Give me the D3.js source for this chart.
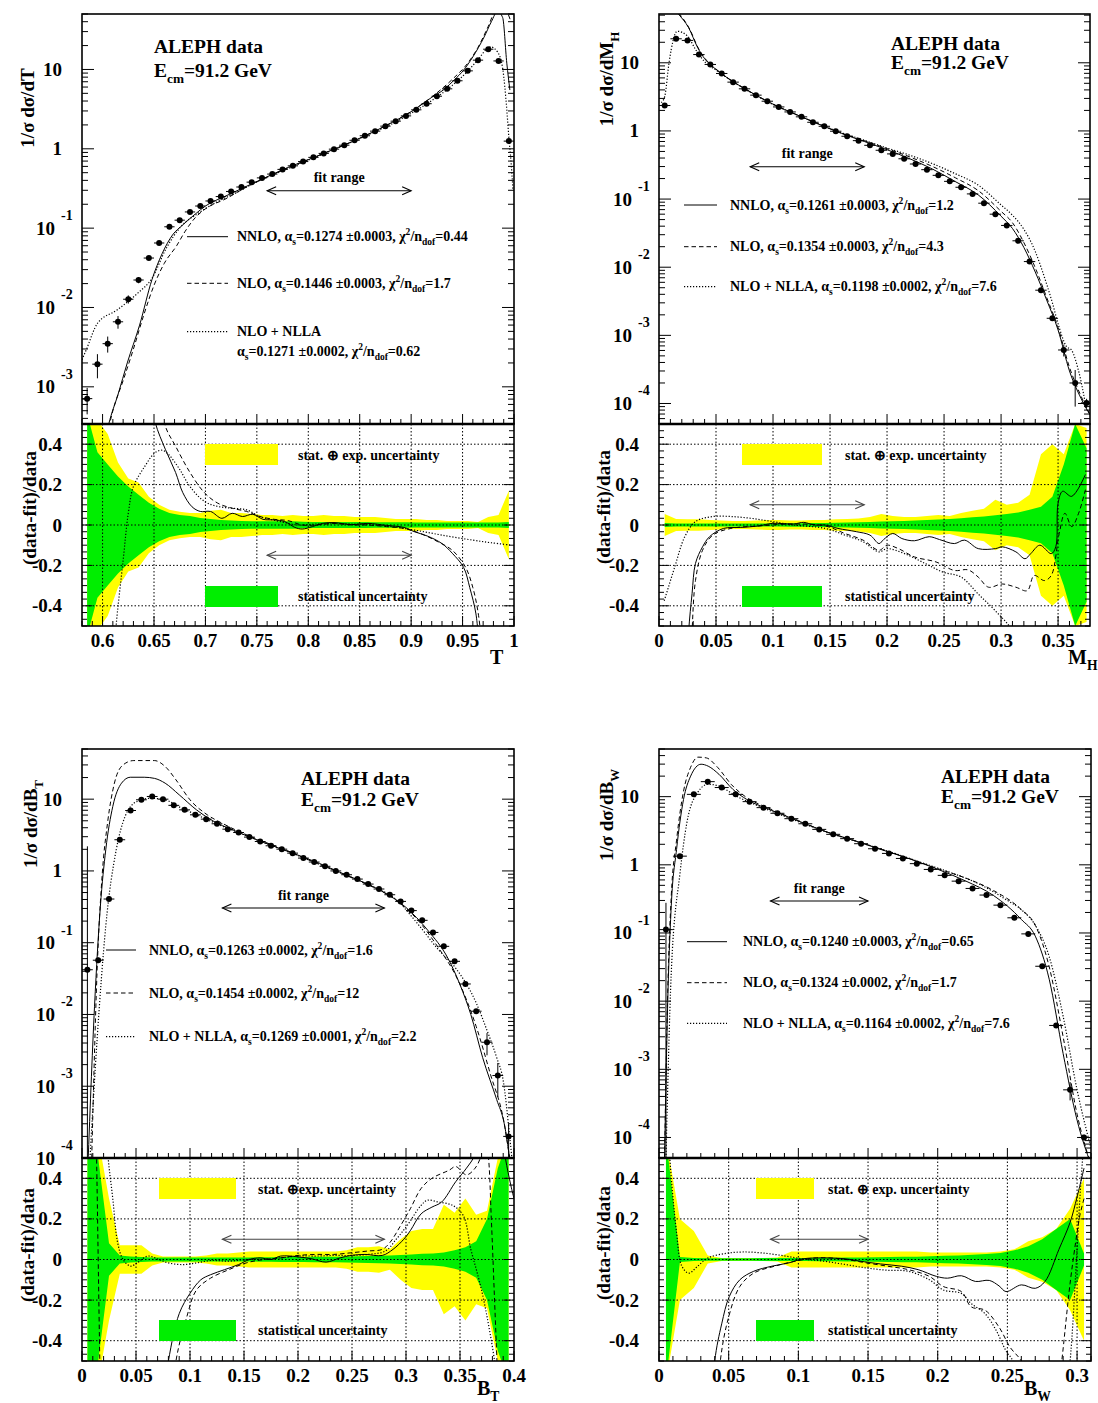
<!DOCTYPE html>
<html><head><meta charset="utf-8"><title>ALEPH event shapes</title>
<script src="https://cdn.jsdelivr.net/npm/d3@7/dist/d3.min.js"></script>
<style>
html,body{margin:0;padding:0;background:#fff;}
svg{display:block;}
text{font-family:"Liberation Serif","Times New Roman",Times,serif;font-weight:bold;fill:#000;}
</style></head><body>
<svg id="chart" width="1098" height="1403" xmlns="http://www.w3.org/2000/svg"></svg>
<script>
// ======================= DATA =======================
const modelNames = ["NNLO", "NLO", "NLO + NLLA"];
const ratioTickValues = [-0.4, -0.2, 0, 0.2, 0.4];
const ratioTickLabels = ["-0.4", "-0.2", "0", "0.2", "0.4"];
const boxLabels = ["stat. \u2295 exp. uncertainty", "statistical uncertainty"];

// ---------- Panel 1 : Thrust T ----------
const T_bins = [0.585,0.595,0.605,0.615,0.625,0.635,0.645,0.655,0.665,0.675,0.685,0.695,0.705,0.715,0.725,0.735,0.745,0.755,0.765,0.775,0.785,0.795,0.805,0.815,0.825,0.835,0.845,0.855,0.865,0.875,0.885,0.895,0.905,0.915,0.925,0.935,0.945,0.955,0.965,0.975,0.985,0.995];
const T_data = [7.1e-4,1.93e-3,3.5e-3,6.6e-3,0.0127,0.0222,0.042,0.065,0.104,0.126,0.16,0.19,0.22,0.25,0.29,0.33,0.38,0.43,0.48,0.55,0.61,0.69,0.78,0.875,0.99,1.11,1.28,1.46,1.67,1.93,2.23,2.6,3.1,3.7,4.6,5.7,7.2,9.6,13.1,18,12.8,1.25];
const T_err = [2.6e-4,6.5e-4,8e-4,1.2e-3,1.5e-3,2e-3,2.5e-3,3e-3,0.004,0.004,0.004,0.004,0.004,0.004,0.005,0.005,0.005,0.006,0.006,0.007,0.007,0.008,0.009,0.01,0.01,0.012,0.013,0.015,0.017,0.02,0.022,0.026,0.03,0.037,0.046,0.057,0.07,0.1,0.13,0.18,0.13,0.03];
const T_nnlo = [[0.6,1.5e-4],[0.606,3.4e-4],[0.615,8e-4],[0.624,2.0e-3],[0.636,6.0e-3],[0.648,0.0224],[0.658,0.048],[0.668,0.082],[0.678,0.11],[0.69,0.15],[0.70,0.19],[0.72,0.255],[0.74,0.337],[0.76,0.444],[0.78,0.58],[0.80,0.73],[0.82,0.93],[0.84,1.19],[0.86,1.56],[0.88,2.1],[0.90,2.93],[0.92,4.45],[0.932,5.6],[0.942,7.4],[0.951,9.8],[0.96,14.4],[0.971,25.7],[0.978,40],[0.984,54],[0.989,45],[0.993,12],[0.996,5.5]];
const T_nlo = [[0.6,1.3e-4],[0.61,5e-4],[0.62,1.2e-3],[0.63,3.0e-3],[0.64,8e-3],[0.65,0.019],[0.66,0.036],[0.672,0.06],[0.68,0.09],[0.69,0.135],[0.70,0.175],[0.72,0.235],[0.74,0.33],[0.76,0.44],[0.78,0.575],[0.80,0.73],[0.82,0.93],[0.84,1.19],[0.86,1.56],[0.88,2.1],[0.90,2.95],[0.92,4.5],[0.94,7.5],[0.955,12],[0.965,19],[0.975,35],[0.982,55],[0.99,60],[0.997,40]];
const T_nlla = [[0.58,2.2e-3],[0.584,2.9e-3],[0.595,6.3e-3],[0.614,9.3e-3],[0.634,0.0151],[0.648,0.0233],[0.662,0.056],[0.676,0.104],[0.693,0.154],[0.71,0.21],[0.73,0.28],[0.75,0.385],[0.78,0.56],[0.80,0.72],[0.82,0.92],[0.84,1.18],[0.86,1.54],[0.88,2.02],[0.90,2.8],[0.92,4.05],[0.94,6.3],[0.955,9.5],[0.965,13.3],[0.977,19.3],[0.984,16.6],[0.989,10.3],[0.993,3.1],[0.995,1.4],[0.997,0.72],[0.999,0.3]];
const T_yellow = [0.6,0.52,0.45,0.31,0.23,0.21,0.14,0.1,0.075,0.065,0.06,0.06,0.07,0.075,0.06,0.06,0.055,0.05,0.05,0.045,0.05,0.045,0.045,0.05,0.045,0.045,0.04,0.04,0.04,0.035,0.03,0.03,0.03,0.025,0.025,0.02,0.02,0.02,0.015,0.04,0.05,0.17];
const T_green = [0.55,0.36,0.3,0.24,0.19,0.15,0.11,0.08,0.06,0.05,0.045,0.035,0.03,0.025,0.022,0.02,0.018,0.018,0.018,0.018,0.018,0.016,0.015,0.015,0.015,0.015,0.015,0.015,0.014,0.014,0.013,0.013,0.012,0.012,0.012,0.012,0.012,0.012,0.012,0.012,0.012,0.015];
const T_rNnlo = [[0.64,0.8],[0.651,0.51],[0.661,0.375],[0.671,0.26],[0.678,0.16],[0.687,0.09],[0.695,0.067],[0.705,0.067],[0.716,0.033],[0.726,0.058],[0.736,0.042],[0.746,0.053],[0.756,0.028],[0.767,0.025],[0.777,0.017],[0.787,-0.012],[0.794,-0.02],[0.804,-0.008],[0.814,0.008],[0.825,0.012],[0.842,0.002],[0.858,0.008],[0.876,-0.002],[0.893,-0.012],[0.903,-0.033],[0.916,-0.055],[0.93,-0.092],[0.94,-0.14],[0.951,-0.21],[0.957,-0.31],[0.963,-0.44],[0.966,-0.6]];
const T_rNlo = [[0.655,0.7],[0.661,0.49],[0.671,0.39],[0.685,0.26],[0.699,0.16],[0.712,0.108],[0.726,0.083],[0.74,0.067],[0.753,0.042],[0.767,0.028],[0.78,0.022],[0.794,0],[0.808,0],[0.825,0.008],[0.842,0],[0.858,0],[0.876,-0.008],[0.893,-0.017],[0.909,-0.042],[0.926,-0.083],[0.94,-0.125],[0.953,-0.21],[0.96,-0.31],[0.965,-0.43],[0.969,-0.6]];
const T_rNlla = [[0.611,-0.7],[0.613,-0.51],[0.62,-0.175],[0.625,0.058],[0.63,0.19],[0.641,0.29],[0.651,0.358],[0.658,0.37],[0.664,0.35],[0.675,0.275],[0.685,0.19],[0.699,0.117],[0.712,0.092],[0.726,0.083],[0.74,0.075],[0.753,0.042],[0.773,0.017],[0.79,0],[0.808,0.005],[0.842,0.005],[0.876,-0.005],[0.903,-0.025],[0.93,-0.05],[0.96,-0.075],[0.978,-0.088],[0.998,-0.1]];
const T_fit = [0.76, 0.90];
const T_xTicks = [0.6,0.65,0.7,0.75,0.8,0.85,0.9,0.95,1.0];
const T_xTickLabels = ["0.6","0.65","0.7","0.75","0.8","0.85","0.9","0.95","1"];
const T_alphas = ["0.1274 \u00b10.0003","0.1446 \u00b10.0003","0.1271 \u00b10.0002"];
const T_chi2 = ["0.44","1.7","0.62"];

// ---------- Panel 2 : Heavy jet mass M_H ----------
const M_bins = [0.005,0.015,0.025,0.035,0.045,0.055,0.065,0.075,0.085,0.095,0.105,0.115,0.125,0.135,0.145,0.155,0.165,0.175,0.185,0.195,0.205,0.215,0.225,0.235,0.245,0.255,0.265,0.275,0.285,0.295,0.305,0.315,0.325,0.335,0.345,0.355,0.365,0.375];
const M_data = [2.36,22.5,21.3,13.2,9.45,6.97,5.2,4.15,3.35,2.73,2.25,1.9,1.61,1.34,1.17,0.99,0.835,0.72,0.615,0.52,0.46,0.39,0.327,0.27,0.223,0.182,0.149,0.119,0.087,0.06,0.041,0.0244,0.0121,4.6e-3,1.78e-3,6.1e-4,2.0e-4,1.02e-4];
const M_err = [0.05,0.3,0.3,0.15,0.1,0.07,0.05,0.04,0.03,0.03,0.02,0.02,0.015,0.013,0.012,0.01,0.008,0.007,0.006,0.005,0.005,0.004,0.004,0.003,0.003,0.003,0.002,0.002,0.002,0.0015,0.001,6e-4,4e-4,2e-4,1e-4,1.2e-4,1.1e-4,1.5e-5];
const M_nnlo = [[0.012,65],[0.017,52],[0.026,32.7],[0.034,16.6],[0.04,11.5],[0.05,8.0],[0.06,6.0],[0.08,3.75],[0.10,2.47],[0.12,1.75],[0.14,1.26],[0.16,0.92],[0.18,0.7],[0.2,0.53],[0.22,0.39],[0.24,0.275],[0.26,0.18],[0.28,0.115],[0.30,0.056],[0.31,0.037],[0.32,0.0195],[0.33,8.5e-3],[0.34,3.3e-3],[0.35,1.2e-3],[0.36,3.0e-4],[0.37,1.2e-4],[0.38,6e-5]];
const M_nlo = [[0.013,65],[0.018,52],[0.027,31],[0.034,17],[0.04,11.8],[0.05,8.1],[0.06,6.0],[0.08,3.75],[0.10,2.47],[0.12,1.75],[0.14,1.26],[0.16,0.93],[0.18,0.72],[0.2,0.55],[0.22,0.415],[0.24,0.3],[0.26,0.205],[0.28,0.133],[0.30,0.066],[0.31,0.045],[0.32,0.023],[0.33,9.8e-3],[0.34,3.6e-3],[0.35,1.3e-3],[0.36,3.4e-4],[0.37,1.3e-4],[0.38,6e-5]];
const M_nlla = [[0.002,2.6],[0.005,3.2],[0.009,10.6],[0.016,29],[0.025,24.7],[0.032,15.7],[0.041,10],[0.05,7.8],[0.06,6.0],[0.08,3.7],[0.10,2.45],[0.12,1.74],[0.14,1.27],[0.16,0.94],[0.18,0.73],[0.2,0.56],[0.22,0.44],[0.24,0.33],[0.26,0.235],[0.28,0.16],[0.30,0.082],[0.31,0.058],[0.32,0.036],[0.33,0.017],[0.336,9e-3],[0.345,3e-3],[0.351,1.3e-3],[0.357,7e-4],[0.362,6e-4],[0.368,3e-4],[0.375,8e-5]];
const M_yellow = [0.055,0.03,0.028,0.028,0.025,0.022,0.02,0.02,0.022,0.025,0.025,0.022,0.022,0.025,0.025,0.028,0.03,0.032,0.04,0.055,0.045,0.04,0.04,0.045,0.05,0.045,0.06,0.07,0.08,0.125,0.1,0.11,0.15,0.35,0.4,0.35,0.5,0.48];
const M_green = [0.01,0.008,0.008,0.008,0.008,0.008,0.008,0.008,0.008,0.008,0.008,0.009,0.009,0.01,0.01,0.011,0.012,0.013,0.015,0.017,0.018,0.02,0.022,0.025,0.027,0.03,0.033,0.038,0.042,0.048,0.055,0.062,0.075,0.09,0.14,0.3,0.5,0.38];
const M_rNnlo = [[0.0236,-0.8],[0.026,-0.525],[0.029,-0.34],[0.032,-0.19],[0.0382,-0.108],[0.0443,-0.058],[0.0566,-0.017],[0.0718,-0.012],[0.0871,-0.005],[0.0994,0.008],[0.118,0.005],[0.127,0.013],[0.136,0],[0.146,0],[0.157,-0.017],[0.173,-0.033],[0.185,-0.05],[0.193,-0.092],[0.197,-0.072],[0.205,-0.042],[0.213,-0.067],[0.224,-0.078],[0.237,-0.058],[0.246,-0.072],[0.259,-0.092],[0.268,-0.075],[0.28,-0.117],[0.295,-0.117],[0.301,-0.108],[0.313,-0.133],[0.321,-0.167],[0.326,-0.142],[0.334,-0.1],[0.344,-0.142],[0.348,-0.108],[0.35,0.108],[0.354,0.167],[0.362,0.142],[0.374,0.25]];
const M_rNlo = [[0.027,-0.8],[0.029,-0.525],[0.032,-0.275],[0.0382,-0.125],[0.0472,-0.05],[0.063,-0.017],[0.0871,-0.005],[0.118,0.005],[0.146,-0.005],[0.163,-0.042],[0.179,-0.075],[0.193,-0.125],[0.2,-0.1],[0.21,-0.117],[0.224,-0.158],[0.243,-0.183],[0.259,-0.225],[0.271,-0.222],[0.28,-0.258],[0.289,-0.308],[0.301,-0.292],[0.313,-0.308],[0.323,-0.325],[0.329,-0.25],[0.338,-0.275],[0.344,-0.25],[0.351,-0.042],[0.356,0.058],[0.362,-0.008],[0.368,0.058],[0.374,0.175]];
const M_rNlla = [[0.0046,-0.375],[0.0138,-0.208],[0.0226,-0.058],[0.032,0.017],[0.0472,0.042],[0.063,0.042],[0.0807,0.033],[0.0994,0.017],[0.118,0],[0.146,-0.017],[0.163,-0.05],[0.179,-0.083],[0.193,-0.133],[0.2,-0.117],[0.2155,-0.142],[0.234,-0.192],[0.249,-0.233],[0.265,-0.258],[0.28,-0.342],[0.295,-0.425],[0.31,-0.525],[0.32,-0.7]];
const M_fit = [0.08, 0.18];
const M_xTicks = [0,0.05,0.1,0.15,0.2,0.25,0.3,0.35];
const M_xTickLabels = ["0","0.05","0.1","0.15","0.2","0.25","0.3","0.35"];
const M_alphas = ["0.1261 \u00b10.0003","0.1354 \u00b10.0003","0.1198 \u00b10.0002"];
const M_chi2 = ["1.2","4.3","7.6"];

// ---------- Panel 3 : Total jet broadening B_T ----------
const BT_bins = [0.005,0.015,0.025,0.035,0.045,0.055,0.065,0.075,0.085,0.095,0.105,0.115,0.125,0.135,0.145,0.155,0.165,0.175,0.185,0.195,0.205,0.215,0.225,0.235,0.245,0.255,0.265,0.275,0.285,0.295,0.305,0.315,0.325,0.335,0.345,0.355,0.365,0.375,0.385,0.395];
const BT_data = [0.042,0.057,0.406,2.72,6.95,9.8,10.9,10.0,8.2,7.1,6.05,5.27,4.54,3.82,3.43,2.96,2.57,2.24,2.01,1.77,1.51,1.33,1.16,1.0,0.885,0.77,0.656,0.56,0.466,0.376,0.28,0.205,0.139,0.089,0.055,0.0266,0.0111,4.1e-3,1.41e-3,2.0e-4];
const BT_err = [2.16,0.005,0.02,0.1,0.2,0.25,0.25,0.2,0.15,0.12,0.1,0.08,0.07,0.05,0.05,0.04,0.03,0.03,0.02,0.02,0.02,0.015,0.015,0.012,0.01,0.01,0.008,0.007,0.006,0.005,0.004,0.003,0.003,0.002,0.0015,8e-4,6e-4,1.4e-3,7e-4,1e-4];
const BT_nnlo = [[0.005,5e-5],[0.0116,0.013],[0.017,0.32],[0.022,1.97],[0.0285,7.9],[0.0366,16.7],[0.0447,20.2],[0.0576,20.2],[0.067,19.5],[0.077,16.7],[0.09,11.5],[0.106,7.1],[0.12,5.1],[0.14,3.7],[0.16,2.78],[0.18,2.14],[0.2,1.66],[0.22,1.27],[0.24,0.94],[0.26,0.7],[0.28,0.5],[0.30,0.31],[0.32,0.15],[0.339,0.06],[0.35,0.026],[0.36,0.01],[0.371,2.5e-3],[0.384,6.5e-4],[0.391,3e-4],[0.396,1e-4],[0.4,4e-5]];
const BT_nlo = [[0.009,1e-4],[0.0139,0.038],[0.0188,0.93],[0.0236,4.6],[0.03,16.7],[0.038,30],[0.048,34.5],[0.067,34.5],[0.077,28.5],[0.087,18.6],[0.1,9.8],[0.116,6.05],[0.13,4.6],[0.15,3.3],[0.17,2.5],[0.19,1.92],[0.21,1.42],[0.23,1.07],[0.25,0.8],[0.27,0.59],[0.29,0.4],[0.313,0.19],[0.33,0.085],[0.346,0.035],[0.365,6.8e-3],[0.378,1.5e-3],[0.391,3e-4],[0.396,1e-4],[0.4,4e-5]];
const BT_nlla = [[0.0074,1e-4],[0.014,4.5e-3],[0.022,0.17],[0.0317,1.97],[0.0398,5.7],[0.051,9.3],[0.064,10.3],[0.077,9.8],[0.09,7.8],[0.11,5.7],[0.13,4.2],[0.15,3.2],[0.17,2.42],[0.19,1.88],[0.21,1.42],[0.23,1.07],[0.25,0.81],[0.27,0.6],[0.29,0.41],[0.31,0.19],[0.33,0.08],[0.3456,0.045],[0.365,0.0145],[0.375,6e-3],[0.384,2.5e-3],[0.39,1.2e-3],[0.396,2e-4],[0.4,5e-5]];
const BT_yellow = [0.6,0.6,0.3,0.07,0.07,0.07,0.03,0.015,0.015,0.015,0.015,0.02,0.03,0.03,0.035,0.04,0.04,0.04,0.04,0.04,0.04,0.04,0.04,0.04,0.045,0.06,0.06,0.065,0.05,0.1,0.14,0.15,0.15,0.27,0.23,0.3,0.22,0.24,0.5,0.6];
const BT_green = [0.6,0.5,0.08,0.02,0.015,0.012,0.01,0.01,0.01,0.01,0.01,0.01,0.01,0.01,0.01,0.01,0.011,0.011,0.012,0.012,0.012,0.013,0.013,0.014,0.015,0.016,0.017,0.018,0.02,0.022,0.025,0.028,0.03,0.035,0.045,0.06,0.09,0.2,0.45,0.6];
const BT_rNnlo = [[0.07,-0.9],[0.08,-0.5],[0.09,-0.267],[0.1,-0.167],[0.11,-0.1],[0.119,-0.075],[0.132,-0.05],[0.145,-0.025],[0.155,0],[0.165,0.008],[0.175,0],[0.184,0.017],[0.2,0.013],[0.213,0.003],[0.226,-0.013],[0.239,0.008],[0.249,0.02],[0.262,0.025],[0.278,0.02],[0.288,0.05],[0.298,0.1],[0.304,0.142],[0.314,0.225],[0.324,0.258],[0.333,0.283],[0.346,0.383],[0.356,0.45],[0.364,0.517],[0.375,0.75],[0.385,0.75],[0.392,0.5],[0.397,0.367],[0.4,0.3]];
const BT_rNlo = [[0.012,0.9],[0.0135,0.5],[0.0165,-0.5],[0.018,-0.9],null,[0.08,-0.9],[0.087,-0.5],[0.097,-0.283],[0.106,-0.15],[0.119,-0.092],[0.136,-0.05],[0.152,-0.017],[0.168,0],[0.184,0.008],[0.2,0.02],[0.217,0.025],[0.233,0.025],[0.249,0.033],[0.265,0.042],[0.278,0.05],[0.285,0.083],[0.295,0.167],[0.304,0.25],[0.314,0.35],[0.324,0.4],[0.34,0.44],[0.346,0.458],[0.356,0.417],[0.364,0.45],[0.37,0.517],[0.373,0.6],[0.376,0.52],[0.379,0.2],[0.382,-0.2],[0.385,-0.6]];
const BT_rNlla = [[0.022,0.8],[0.024,0.517],[0.0285,0.3],[0.033,0.083],[0.038,0],[0.045,-0.033],[0.051,-0.017],[0.061,0.017],[0.071,0],[0.08,-0.017],[0.093,-0.025],[0.106,-0.017],[0.119,-0.005],[0.136,-0.008],[0.152,0],[0.168,0],[0.184,0.008],[0.2,0.017],[0.217,0.017],[0.233,0.02],[0.249,0.02],[0.265,0.025],[0.281,0.042],[0.291,0.1],[0.301,0.167],[0.314,0.267],[0.32,0.292],[0.33,0.283],[0.343,0.267],[0.353,0.217],[0.36,0.05],[0.366,-0.067],[0.372,-0.2],[0.382,-0.5],[0.386,-0.7]];
const BT_fit = [0.13, 0.28];
const BT_xTicks = [0,0.05,0.1,0.15,0.2,0.25,0.3,0.35,0.4];
const BT_xTickLabels = ["0","0.05","0.1","0.15","0.2","0.25","0.3","0.35","0.4"];
const BT_alphas = ["0.1263 \u00b10.0002","0.1454 \u00b10.0002","0.1269 \u00b10.0001"];
const BT_chi2 = ["1.6","12","2.2"];

// ---------- Panel 4 : Wide jet broadening B_W ----------
const BW_bins = [0.005,0.015,0.025,0.035,0.045,0.055,0.065,0.075,0.085,0.095,0.105,0.115,0.125,0.135,0.145,0.155,0.165,0.175,0.185,0.195,0.205,0.215,0.225,0.235,0.245,0.255,0.265,0.275,0.285,0.295,0.305];
const BW_data = [0.112,1.34,10.8,16.6,13.6,10.8,8.45,6.9,5.7,4.75,4.0,3.31,2.8,2.42,2.04,1.72,1.47,1.24,1.04,0.855,0.70,0.576,0.45,0.36,0.256,0.167,0.097,0.0325,4.4e-3,5.0e-4,1.0e-4];
const BW_err = [0.165,0.03,0.2,0.3,0.25,0.2,0.15,0.1,0.08,0.06,0.05,0.04,0.03,0.03,0.02,0.02,0.015,0.012,0.01,0.01,0.008,0.007,0.006,0.005,0.004,0.003,0.002,8e-4,2e-4,1.5e-4,1e-5];
const BW_nnlo = [[0.004,5e-5],[0.0063,0.0105],[0.0088,0.25],[0.0126,1.68],[0.0176,9.1],[0.0227,20],[0.0302,29.9],[0.0353,28],[0.043,21.3],[0.053,12.8],[0.063,9.1],[0.08,6.4],[0.10,4.4],[0.12,3.05],[0.14,2.27],[0.16,1.66],[0.18,1.22],[0.2,0.86],[0.22,0.58],[0.24,0.355],[0.26,0.158],[0.27,0.09],[0.28,0.021],[0.29,1.7e-3],[0.30,1.8e-4],[0.31,4e-5]];
const BW_nlo = [[0.004,5e-5],[0.0063,0.015],[0.0088,0.35],[0.0126,2.3],[0.0176,12],[0.0227,27],[0.028,38],[0.034,37],[0.042,27],[0.052,15],[0.062,10],[0.08,6.6],[0.10,4.45],[0.12,3.05],[0.14,2.28],[0.16,1.68],[0.18,1.23],[0.2,0.88],[0.22,0.64],[0.24,0.42],[0.26,0.22],[0.27,0.13],[0.28,0.032],[0.29,3e-3],[0.30,2.2e-4],[0.31,4e-5]];
const BW_nlla = [[0.005,5e-5],[0.0088,0.026],[0.0151,0.76],[0.02,4.15],[0.0277,11.5],[0.0353,15.2],[0.043,14.3],[0.0554,10.2],[0.07,7.5],[0.09,5.15],[0.11,3.6],[0.13,2.6],[0.15,1.95],[0.17,1.45],[0.19,1.05],[0.21,0.76],[0.23,0.52],[0.25,0.3],[0.26,0.22],[0.27,0.13],[0.28,0.045],[0.29,6e-3],[0.30,5e-4],[0.31,7e-5]];
const BW_yellow = [0.6,0.2,0.14,0.02,0.008,0.008,0.008,0.008,0.01,0.04,0.04,0.04,0.04,0.04,0.04,0.04,0.04,0.04,0.04,0.035,0.035,0.035,0.035,0.035,0.04,0.05,0.09,0.11,0.15,0.25,0.4];
const BW_green = [0.6,0.012,0.008,0.006,0.006,0.006,0.006,0.007,0.007,0.008,0.008,0.009,0.009,0.01,0.01,0.011,0.012,0.013,0.014,0.016,0.018,0.02,0.023,0.027,0.032,0.045,0.065,0.1,0.15,0.2,0.03];
const BW_rNnlo = [[0.037,-0.9],[0.04,-0.5],[0.045,-0.317],[0.0504,-0.183],[0.058,-0.1],[0.068,-0.058],[0.081,-0.033],[0.093,-0.017],[0.103,0.003],[0.118,0.008],[0.134,0.003],[0.144,-0.008],[0.159,-0.022],[0.174,-0.033],[0.186,-0.05],[0.199,-0.083],[0.207,-0.092],[0.217,-0.08],[0.227,-0.108],[0.237,-0.103],[0.244,-0.13],[0.249,-0.158],[0.26,-0.125],[0.27,-0.142],[0.277,-0.108],[0.287,0.05],[0.295,0.183],[0.3,0.308],[0.305,0.45]];
const BW_rNlo = [[0.041,-0.9],[0.044,-0.5],[0.05,-0.283],[0.058,-0.133],[0.068,-0.067],[0.083,-0.033],[0.098,-0.008],[0.113,0.008],[0.131,0.003],[0.149,-0.017],[0.164,-0.033],[0.179,-0.05],[0.194,-0.083],[0.204,-0.133],[0.217,-0.158],[0.224,-0.233],[0.234,-0.25],[0.244,-0.333],[0.252,-0.433],[0.26,-0.5],[0.265,-0.6],null,[0.287,-0.6],[0.289,-0.5],[0.295,-0.117],[0.3,0.133],[0.302,0.217],[0.305,0.3]];
const BW_rNlla = [[0.006,0.8],[0.0076,0.517],[0.0126,0.133],[0.0164,-0.033],[0.0214,-0.067],[0.0277,-0.033],[0.0353,0.008],[0.048,0.03],[0.06,0.037],[0.073,0.033],[0.088,0.02],[0.103,0.003],[0.118,-0.008],[0.134,-0.025],[0.149,-0.042],[0.164,-0.053],[0.179,-0.058],[0.194,-0.1],[0.204,-0.15],[0.217,-0.167],[0.224,-0.217],[0.234,-0.267],[0.242,-0.35],[0.249,-0.45],[0.254,-0.5],[0.258,-0.6],null,[0.293,-0.6],[0.295,-0.5],[0.3,0.05],[0.302,0.3],[0.304,0.5]];
const BW_fit = [0.08, 0.15];
const BW_xTicks = [0,0.05,0.1,0.15,0.2,0.25,0.3];
const BW_xTickLabels = ["0","0.05","0.1","0.15","0.2","0.25","0.3"];
const BW_alphas = ["0.1240 \u00b10.0003","0.1324 \u00b10.0002","0.1164 \u00b10.0002"];
const BW_chi2 = ["0.65","1.7","7.6"];

// ======================= LAYOUT =======================
const panels = [
 {x0:82, x1:514, yT:14, yS:424, yB:626, xDom:[0.58,1.0], yDom:[3.4e-4,50],
  bins:T_bins, data:T_data, err:T_err, curves:[T_nnlo,T_nlo,T_nlla],
  yellow:T_yellow, green:T_green, ratios:[T_rNnlo,T_rNlo,T_rNlla],
  fit:T_fit, fitY:190.7, rFit:-0.15, xTicks:T_xTicks, xTickLabels:T_xTickLabels,
  alphas:T_alphas, chi2:T_chi2,
  aleph:{x:154, y1:53, y2:77},
  leg:{lx0:187, lx1:228, tx:237, rows:[236.7,283.3,331.7], twoLine:true, row2:351},
  yTitle:{x:34, y:108, parts:[["1/\u03c3 d\u03c3/dT",0]]},
  rTitle:{x:36, y:508},
  xTitle:{x:490, y:664, parts:[["T",0]]},
  box:{x0:205, x1:278, tx:298, l1:"stat. \u2295 exp. uncertainty"}},
 {x0:659, x1:1090, yT:14, yS:424, yB:626, xDom:[0,0.378], yDom:[5e-5,52],
  bins:M_bins, data:M_data, err:M_err, curves:[M_nnlo,M_nlo,M_nlla],
  yellow:M_yellow, green:M_green, ratios:[M_rNnlo,M_rNlo,M_rNlla],
  fit:M_fit, fitY:166.7, rFit:0.1, xTicks:M_xTicks, xTickLabels:M_xTickLabels,
  alphas:M_alphas, chi2:M_chi2,
  aleph:{x:891, y1:50, y2:69},
  leg:{lx0:684, lx1:717, tx:730, rows:[205,246.7,286.7], twoLine:false},
  yTitle:{x:613, y:79, parts:[["1/\u03c3 d\u03c3/dM",0],["H",1]]},
  rTitle:{x:610, y:507},
  xTitle:{x:1068, y:664, parts:[["M",0],["H",1]]},
  box:{x0:742, x1:822, tx:845, l1:"stat. \u2295 exp. uncertainty"}},
 {x0:82, x1:514, yT:749, yS:1158, yB:1361, xDom:[0,0.4], yDom:[1e-4,50],
  bins:BT_bins, data:BT_data, err:BT_err, curves:[BT_nnlo,BT_nlo,BT_nlla],
  yellow:BT_yellow, green:BT_green, ratios:[BT_rNnlo,BT_rNlo,BT_rNlla],
  fit:BT_fit, fitY:908, rFit:0.1, xTicks:BT_xTicks, xTickLabels:BT_xTickLabels,
  alphas:BT_alphas, chi2:BT_chi2,
  aleph:{x:301, y1:785, y2:806},
  leg:{lx0:106, lx1:136, tx:149, rows:[950,993,1036.7], twoLine:false},
  yTitle:{x:37, y:824, parts:[["1/\u03c3 d\u03c3/dB",0],["T",1]]},
  rTitle:{x:34, y:1245},
  xTitle:{x:477, y:1395, parts:[["B",0],["T",1]]},
  box:{x0:159, x1:236, tx:258, l1:"stat. \u2295exp. uncertainty"}},
 {x0:659, x1:1091, yT:749, yS:1158, yB:1361, xDom:[0,0.31], yDom:[5e-5,50],
  bins:BW_bins, data:BW_data, err:BW_err, curves:[BW_nnlo,BW_nlo,BW_nlla],
  yellow:BW_yellow, green:BW_green, ratios:[BW_rNnlo,BW_rNlo,BW_rNlla],
  fit:BW_fit, fitY:901, rFit:0.1, xTicks:BW_xTicks, xTickLabels:BW_xTickLabels,
  alphas:BW_alphas, chi2:BW_chi2,
  aleph:{x:941, y1:783, y2:803},
  leg:{lx0:687, lx1:727, tx:743, rows:[941.7,982.7,1023.3], twoLine:false},
  yTitle:{x:613, y:815, parts:[["1/\u03c3 d\u03c3/dB",0],["W",1]]},
  rTitle:{x:610, y:1243},
  xTitle:{x:1024, y:1395, parts:[["B",0],["W",1]]},
  box:{x0:756, x1:814, tx:828, l1:"stat. \u2295 exp. uncertainty"}}
];

// ======================= DRAWING =======================
const svg = d3.select('#chart');
const defs = svg.append('defs');
const YEL = '#ffff00', GRN = '#00ee00';
const DASH = [null, '4.5,3', '1.2,1.8'];

function rich(g, parts, size, attrs) {
  const t = g.append('text').attr('font-size', size);
  Object.keys(attrs).forEach(k => t.attr(k, attrs[k]));
  let shift = 0;
  parts.forEach(([s, m]) => {
    const target = m === 1 ? 0.3 * size : (m === 2 ? -0.42 * size : 0);
    const ts = t.append('tspan').text(s).attr('dy', target - shift);
    if (m) ts.attr('font-size', size * 0.68);
    shift = target;
  });
  return t;
}
function seg(g, x1, y1, x2, y2, w, col) {
  return g.append('line').attr('x1', x1).attr('y1', y1).attr('x2', x2).attr('y2', y2)
    .attr('stroke', col || '#000').attr('stroke-width', w || 1);
}
function arrow(g, xa, xb, yy, col) {
  seg(g, xa, yy, xb, yy, 1.1, col);
  g.append('path').attr('d', `M${xa+9},${yy-4}L${xa},${yy}L${xa+9},${yy+4}`).attr('fill','none').attr('stroke',col).attr('stroke-width',1.1);
  g.append('path').attr('d', `M${xb-9},${yy-4}L${xb},${yy}L${xb-9},${yy+4}`).attr('fill','none').attr('stroke',col).attr('stroke-width',1.1);
}

panels.forEach((P, idx) => {
  const g = svg.append('g');
  const x = d3.scaleLinear().domain(P.xDom).range([P.x0, P.x1]);
  const y = d3.scaleLog().domain(P.yDom).range([P.yS, P.yT]);
  const r = d3.scaleLinear().domain([-0.5, 0.5]).range([P.yB, P.yS]);
  const cu = 'cu' + idx, cl = 'cl' + idx;
  defs.append('clipPath').attr('id', cu).append('rect')
    .attr('x', P.x0).attr('y', P.yT).attr('width', P.x1 - P.x0).attr('height', P.yS - P.yT);
  defs.append('clipPath').attr('id', cl).append('rect')
    .attr('x', P.x0).attr('y', P.yS).attr('width', P.x1 - P.x0).attr('height', P.yB - P.yS);

  // ---------- upper pad ----------
  const gu = g.append('g').attr('clip-path', `url(#${cu})`);
  const lineU = d3.line().defined(d => d !== null).x(d => x(d[0])).y(d => y(d[1])).curve(d3.curveMonotoneX);
  P.curves.forEach((c, i) => {
    gu.append('path').attr('d', lineU(c)).attr('fill', 'none').attr('stroke', '#000')
      .attr('stroke-width', i === 2 ? 1.2 : 1).attr('stroke-dasharray', DASH[i]);
  });
  const hw = (P.bins[1] - P.bins[0]) / 2;
  P.bins.forEach((c, i) => {
    const v = P.data[i], e = P.err[i], yc = y(v);
    seg(gu, x(c - hw), yc, x(c + hw), yc, 1);
    if (e > 0) {
      const lo = Math.max(v - e, P.yDom[0] * 0.5);
      seg(gu, x(c), y(lo), x(c), y(v + e), 1);
    }
  });
  P.bins.forEach((c, i) => {
    g.append('circle').attr('cx', x(c)).attr('cy', y(P.data[i])).attr('r', 3).attr('fill', '#000');
  });
  rich(g, [["ALEPH data", 0]], 19.5, {x: P.aleph.x, y: P.aleph.y1});
  rich(g, [["E", 0], ["cm", 1], ["=91.2 GeV", 0]], 19.5, {x: P.aleph.x, y: P.aleph.y2});
  arrow(g, x(P.fit[0]), x(P.fit[1]), P.fitY, '#000');
  rich(g, [["fit range", 0]], 14, {x: (x(P.fit[0]) + x(P.fit[1])) / 2, y: P.fitY - 8.5, 'text-anchor': 'middle'});
  P.leg.rows.forEach((ry, i) => {
    seg(g, P.leg.lx0, ry, P.leg.lx1, ry, i === 2 ? 1.2 : 1).attr('stroke-dasharray', DASH[i]);
    const tail = [["=" + P.alphas[i] + ", \u03c7", 0], ["2", 2], ["/n", 0], ["dof", 1], ["=" + P.chi2[i], 0]];
    if (i === 2 && P.leg.twoLine) {
      rich(g, [[modelNames[i], 0]], 14, {x: P.leg.tx, y: ry + 4.5});
      rich(g, [["\u03b1", 0], ["s", 1]].concat(tail), 14, {x: P.leg.tx, y: P.leg.row2 + 4.5});
    } else {
      rich(g, [[modelNames[i] + ", \u03b1", 0], ["s", 1]].concat(tail), 14, {x: P.leg.tx, y: ry + 4.5});
    }
  });
  rich(g, P.yTitle.parts, 19, {transform: `translate(${P.yTitle.x},${P.yTitle.y}) rotate(-90)`, 'text-anchor': 'middle'});

  // ---------- lower pad ----------
  const gl = g.append('g').attr('clip-path', `url(#${cl})`);
  const band = d3.area().x((d, i) => x(P.bins[i])).y0(d => r(-d)).y1(d => r(d));
  gl.append('path').attr('d', band(P.yellow)).attr('fill', YEL);
  gl.append('path').attr('d', band(P.green)).attr('fill', GRN);
  P.xTicks.forEach(t => {
    const xx = x(t);
    if (xx <= P.x0 + 1 || xx >= P.x1 - 1) return;
    seg(gl, xx, P.yS, xx, P.yB, 1).attr('stroke-dasharray', '1.5,2');
  });
  ratioTickValues.forEach(t => {
    seg(gl, P.x0, r(t), P.x1, r(t), 1).attr('stroke-dasharray', '1.5,2');
  });
  const lineR = d3.line().defined(d => d !== null).x(d => x(d[0])).y(d => r(d[1])).curve(d3.curveCatmullRom.alpha(0.5));
  P.ratios.forEach((c, i) => {
    gl.append('path').attr('d', lineR(c)).attr('fill', 'none').attr('stroke', '#000')
      .attr('stroke-width', i === 2 ? 1.2 : 1).attr('stroke-dasharray', DASH[i]);
  });
  arrow(g, x(P.fit[0]), x(P.fit[1]), r(P.rFit), '#444');
  g.append('rect').attr('x', P.box.x0).attr('y', P.yS + 20).attr('width', P.box.x1 - P.box.x0).attr('height', 21).attr('fill', YEL);
  g.append('rect').attr('x', P.box.x0).attr('y', P.yS + 162).attr('width', P.box.x1 - P.box.x0).attr('height', 21).attr('fill', GRN);
  rich(g, [[P.box.l1, 0]], 14, {x: P.box.tx, y: P.yS + 36});
  rich(g, [[boxLabels[1], 0]], 14, {x: P.box.tx, y: P.yS + 177});
  rich(g, [["(data-fit)/data", 0]], 19, {transform: `translate(${P.rTitle.x},${P.rTitle.y}) rotate(-90)`, 'text-anchor': 'middle'});

  // ---------- frames ----------
  g.append('rect').attr('x', P.x0).attr('y', P.yT).attr('width', P.x1 - P.x0).attr('height', P.yS - P.yT)
    .attr('fill', 'none').attr('stroke', '#000').attr('stroke-width', 1.6);
  g.append('rect').attr('x', P.x0).attr('y', P.yS).attr('width', P.x1 - P.x0).attr('height', P.yB - P.yS)
    .attr('fill', 'none').attr('stroke', '#000').attr('stroke-width', 1.6);
  seg(g, P.x0, P.yS, P.x1, P.yS, 2.6);

  // ---------- ticks ----------
  y.ticks().forEach(t => {
    const yy = y(t);
    if (yy < P.yT - 0.5 || yy > P.yS + 0.5) return;
    const lg = Math.log10(t), major = Math.abs(lg - Math.round(lg)) < 1e-6;
    const L = major ? 12 : 6;
    seg(g, P.x0, yy, P.x0 + L, yy, 1);
    seg(g, P.x1, yy, P.x1 - L, yy, 1);
  });
  for (let k = Math.ceil(Math.log10(P.yDom[0]) - 1e-9); k <= Math.floor(Math.log10(P.yDom[1]) + 1e-9); k++) {
    const yy = y(Math.pow(10, k));
    if (k === 0 || k === 1) {
      rich(g, [[k === 0 ? "1" : "10", 0]], 19, {x: P.x0 - 20, y: yy + 6.5, 'text-anchor': 'end'});
    } else {
      rich(g, [["10", 0]], 19, {x: P.x0 - 27, y: yy + 6.5, 'text-anchor': 'end'});
      rich(g, [[String(k), 0]], 14, {x: P.x0 - 21, y: yy - 8});
    }
  }
  const i0 = Math.ceil(P.xDom[0] * 100 - 1e-6), i1 = Math.floor(P.xDom[1] * 100 + 1e-6);
  for (let i = i0; i <= i1; i++) {
    const xx = x(i / 100), L = (i % 5 === 0) ? 10 : 5;
    seg(g, xx, P.yS, xx, P.yS - L, 1);
    seg(g, xx, P.yB, xx, P.yB - L, 1);
  }
  for (let k = -15; k <= 15; k++) {
    const yy = r(k / 30), L = (k % 6 === 0) ? 10 : 5;
    seg(g, P.x0, yy, P.x0 + L, yy, 1);
    seg(g, P.x1, yy, P.x1 - L, yy, 1);
  }
  ratioTickValues.forEach((t, i) => {
    rich(g, [[ratioTickLabels[i], 0]], 19, {x: P.x0 - 20, y: r(t) + 6.5, 'text-anchor': 'end'});
  });
  P.xTicks.forEach((t, i) => {
    rich(g, [[P.xTickLabels[i], 0]], 19, {x: x(t), y: P.yB + 21, 'text-anchor': 'middle'});
  });
  rich(g, P.xTitle.parts, 20, {x: P.xTitle.x, y: P.xTitle.y});
});
</script></body></html>
